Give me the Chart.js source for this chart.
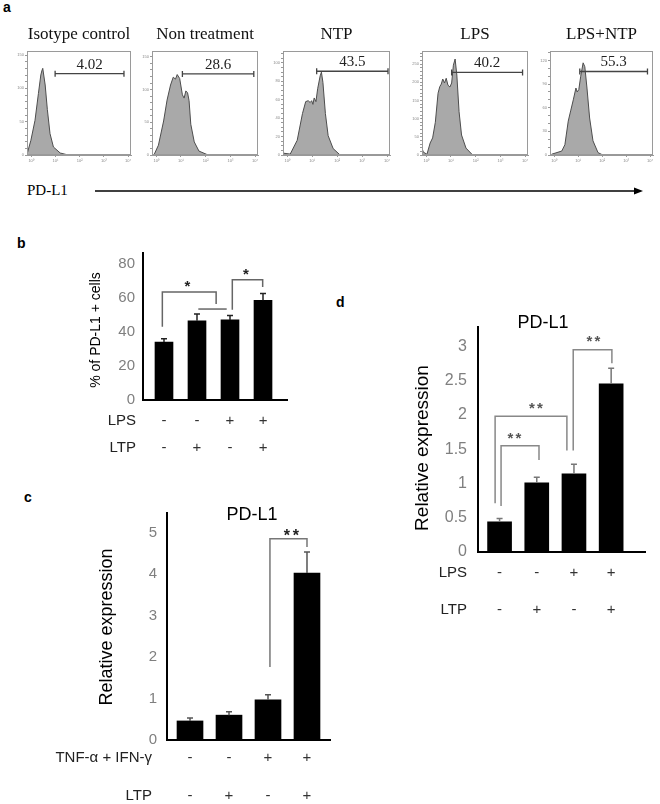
<!DOCTYPE html>
<html>
<head>
<meta charset="utf-8">
<script src="https://cdn.jsdelivr.net/npm/chart.js@4.4.1/dist/chart.umd.min.js"></script>
<style>
  body { margin: 0; background: #fff; }
  #page { position: relative; width: 660px; height: 804px; overflow: hidden; font-family: 'Liberation Sans', Arial, sans-serif; }
  #page canvas { position: absolute; left: 0; top: 0; }
  .tag { position: absolute; font-weight: bold; font-size: 14px; line-height: 14px; }
  #axisName { position: absolute; left: 27px; top: 183px; color: #000; font: 15px/15px 'Liberation Serif', 'Times New Roman', serif; }
  #arrow { position: absolute; left: 0; top: 0; }
</style>
</head>
<body>
<div id="page">
  <div class="tag" style="left:3px;top:0px">a</div>
  <div class="tag" style="left:17px;top:236px">b</div>
  <div class="tag" style="left:24px;top:490px">c</div>
  <div class="tag" style="left:336px;top:295px">d</div>
  <div id="axisName">PD-L1</div>
  <svg id="arrow" width="660" height="200">
    <line x1="95" y1="191" x2="636" y2="191" stroke="#000" stroke-width="1.5"/>
    <polygon points="634,187.5 643,191 634,194.5" fill="#000"/>
  </svg>
  <canvas id="h0" width="660" height="804"></canvas>
  <canvas id="h1" width="660" height="804"></canvas>
  <canvas id="h2" width="660" height="804"></canvas>
  <canvas id="h3" width="660" height="804"></canvas>
  <canvas id="h4" width="660" height="804"></canvas>
  <canvas id="chartB" width="660" height="804"></canvas>
  <canvas id="chartC" width="660" height="804"></canvas>
  <canvas id="chartD" width="660" height="804"></canvas>
</div>
<script>
'use strict';

// ---- panel a: PD-L1 histograms (x = log10 intensity, y = cell count) ----
const histTitles = ['Isotype control', 'Non treatment', 'NTP', 'LPS', 'LPS+NTP'];
const histPercents = ['4.02', '28.6', '43.5', '40.2', '55.3'];

const isoX = [-0.17, -0.01, 0.16, 0.3, 0.4, 0.44, 0.48, 0.58, 0.67, 0.78, 0.92, 1.2, 1.53, 4.1];
const isoY = [1, 22, 52, 92, 120, 126, 130, 105, 68, 32, 12, 3, 0, 0];

const nonX = [-0.08, 0.09, 0.3, 0.44, 0.58, 0.69, 0.78, 0.85, 0.95, 1.06, 1.13, 1.2, 1.27, 1.33, 1.4, 1.54, 1.73, 2.1, 4.1];
const nonY = [1, 15, 52, 84, 107, 119, 116, 123, 117, 92, 87, 98, 95, 83, 47, 20, 6, 0, 0];

const ntpX = [-0.16, 0.12, 0.4, 0.61, 0.74, 0.84, 0.92, 0.98, 1.03, 1.08, 1.15, 1.22, 1.32, 1.37, 1.43, 1.53, 1.64, 1.84, 2.12, 4.1];
const ntpY = [2, 1, 16, 45, 58, 59, 57, 59, 55, 62, 58, 72, 86, 90, 79, 45, 21, 7, 0, 0];

const lpsX = [-0.18, -0.12, 0.03, 0.16, 0.26, 0.37, 0.48, 0.55, 0.61, 0.67, 0.74, 0.81, 0.88, 0.96, 1.03, 1.1, 1.17, 1.24, 1.33, 1.43, 1.61, 1.88, 4.1];
const lpsY = [22, 8, 2, 33, 47, 90, 170, 188, 195, 209, 198, 211, 192, 187, 198, 247, 264, 220, 119, 55, 19, 0, 0];

const lpsNtpX = [-0.1, 0.32, 0.45, 0.59, 0.69, 0.8, 0.91, 0.96, 1.03, 1.11, 1.21, 1.28, 1.37, 1.48, 1.62, 1.83, 2.03, 4.1];
const lpsNtpY = [1, 5, 13, 43, 56, 70, 85, 80, 83, 100, 117, 112, 85, 47, 18, 3, 0, 0];

const histX = [isoX, nonX, ntpX, lpsX, lpsNtpX];
const histY = [isoY, nonY, ntpY, lpsY, lpsNtpY];
const gateLo = [0.99, 1.06, 1.18, 1.03, 1.07];
const gateHi = [3.83, 3.95, 4.04, 3.9, 3.89];
const gateLevel = [122, 124, 91, 227, 106];
const histMax = [156, 159, 113, 286, 132];
const histMajor = [50, 50, 20, 50, 30];
const histMinor = [10, 10, 5, 10, 10];
const decades = [0, 1, 2, 3, 4];
const decadeSup = ['\u2070', '\u00b9', '\u00b2', '\u00b3', '\u2074'];

// ---- panel b ----
const bLPS = ['-', '-', '+', '+'];
const bLTP = ['-', '+', '-', '+'];
const bValues = [34, 46.5, 47, 58.5];
const bErrors = [2, 4, 2.6, 4];
const bTicks = [0, 20, 40, 60, 80];
// [x left, y left end, x right, y top, y right end]
const bBrackets = [[-0.05, 43, 1.58, 63.4, 56.3], [2.07, 53, 2.99, 70.6, 66.3]];
const bLines = [[1.04, 1.9, 53.4]];
const bStars = [[0.71, 69.2, '*'], [2.48, 76, '*']];

// ---- panel c ----
const cTNF = ['-', '-', '+', '+'];
const cLTP = ['-', '+', '-', '+'];
const cValues = [0.46, 0.6, 0.97, 4.03];
const cErrors = [0.07, 0.08, 0.12, 0.51];
const cTicks = [0, 1, 2, 3, 4, 5];
const cBrackets = [[2.05, 1.76, 3.0, 4.86, 4.66]];
const cStars = [[2.6, 5.02, '**']];

// ---- panel d ----
const dLPS = ['-', '-', '+', '+'];
const dLTP = ['-', '+', '-', '+'];
const dValues = [0.44, 1.01, 1.14, 2.45];
const dErrors = [0.05, 0.08, 0.14, 0.23];
const dTicks = [0, 0.5, 1, 1.5, 2, 2.5, 3];
const dBrackets = [[0.04, 0.67, 1.06, 1.55, 1.34], [-0.12, 0.71, 1.81, 1.98, 1.48], [1.98, 1.48, 3.02, 2.95, 2.75]];
const dStars = [[0.4, 1.72, '**'], [0.98, 2.15, '**'], [2.52, 3.13, '**']];

const SANS = "'Liberation Sans', Arial, sans-serif";
const SERIF = "'Liberation Serif', 'Times New Roman', serif";
const W = 660, H = 804;
Chart.defaults.font.family = SANS;

// histogram frames on the page: [left, right], all share top/bottom
const histAreas = [[27, 131], [152, 258], [283, 390], [422, 528], [550, 653]];
const HIST_TOP = 51, HIST_BOTTOM = 155, HYW = 20, HXH = 10;

function histMarks(k) {
  return {
    id: 'histMarks',
    afterDraw(chart) {
      const ctx = chart.ctx;
      const a = chart.chartArea;
      const x = chart.scales.x, y = chart.scales.y;
      ctx.save();
      ctx.strokeStyle = '#9a9a9a';
      ctx.lineWidth = 1;
      ctx.strokeRect(a.left + 0.5, a.top + 0.5, a.right - a.left - 1, a.bottom - a.top - 1);
      // gate
      const x1 = x.getPixelForValue(gateLo[k]);
      const x2 = x.getPixelForValue(gateHi[k]);
      const gy = y.getPixelForValue(gateLevel[k]);
      ctx.strokeStyle = '#444';
      ctx.lineWidth = 1.3;
      ctx.beginPath();
      ctx.moveTo(x1, gy); ctx.lineTo(x2, gy);
      ctx.moveTo(x1, gy - 3); ctx.lineTo(x1, gy + 3);
      ctx.moveTo(x2, gy - 3); ctx.lineTo(x2, gy + 3);
      ctx.stroke();
      ctx.fillStyle = '#222';
      ctx.font = '15px ' + SERIF;
      ctx.textAlign = 'center';
      ctx.textBaseline = 'alphabetic';
      ctx.fillText(histPercents[k], (x1 + x2) / 2, gy - 5);
      ctx.fillStyle = '#111';
      ctx.font = '17px ' + SERIF;
      ctx.fillText(histTitles[k], (a.left + a.right) / 2, 39);
      ctx.restore();
    }
  };
}

function histChart(k) {
  const [l, r] = histAreas[k];
  const pts = histX[k].map((v, i) => ({ x: v, y: histY[k][i] }));
  const minorTicks = [];
  for (let v = 0; v <= histMax[k]; v += histMinor[k]) minorTicks.push({ value: v });
  return new Chart(document.getElementById('h' + k), {
    type: 'line',
    data: {
      datasets: [{
        data: pts,
        fill: 'origin',
        backgroundColor: '#a9a9a9',
        borderColor: '#4d4d4d',
        borderWidth: 1,
        pointRadius: 0,
        tension: 0
      }]
    },
    options: {
      responsive: false,
      animation: false,
      events: [],
      layout: { padding: { left: l - HYW, top: HIST_TOP, right: W - r, bottom: H - HIST_BOTTOM - HXH } },
      plugins: { legend: { display: false }, tooltip: { enabled: false } },
      scales: {
        x: {
          type: 'linear', min: -0.17, max: 4.12,
          afterBuildTicks: s => { s.ticks = decades.map(v => ({ value: v })); },
          afterFit: s => { s.height = HXH; },
          ticks: { callback: v => '10' + decadeSup[v], font: { size: 4 }, color: '#888', padding: 1, autoSkip: false, maxRotation: 0 },
          grid: { drawOnChartArea: false, tickLength: 2, color: '#999' },
          border: { color: '#999' }
        },
        y: {
          min: 0, max: histMax[k],
          afterBuildTicks: s => { s.ticks = minorTicks; },
          afterFit: s => { s.width = HYW; },
          ticks: { callback: v => (v % histMajor[k] === 0 ? String(v) : ''), font: { size: 4 }, color: '#888', padding: 1, autoSkip: false },
          grid: { drawOnChartArea: false, tickLength: 2, color: '#999' },
          border: { color: '#999' }
        }
      }
    },
    plugins: [histMarks(k)]
  });
}

// error bars, brackets, stars, treatment rows and titles for the bar panels
function barMarks(o) {
  return {
    id: 'barMarks',
    afterDraw(chart) {
      const ctx = chart.ctx;
      const x = chart.scales.x, y = chart.scales.y;
      ctx.save();
      ctx.lineWidth = 1.5;
      ctx.strokeStyle = o.errColor;
      o.values.forEach((v, i) => {
        const px = x.getPixelForValue(i);
        const top = y.getPixelForValue(v + o.errors[i]);
        ctx.beginPath();
        ctx.moveTo(px, y.getPixelForValue(v));
        ctx.lineTo(px, top);
        ctx.moveTo(px - 3, top);
        ctx.lineTo(px + 3, top);
        ctx.stroke();
      });
      ctx.strokeStyle = o.lineColor;
      o.brackets.forEach(([x1, y1, x2, yt, y2]) => {
        ctx.beginPath();
        ctx.moveTo(x.getPixelForValue(x1), y.getPixelForValue(y1));
        ctx.lineTo(x.getPixelForValue(x1), y.getPixelForValue(yt));
        ctx.lineTo(x.getPixelForValue(x2), y.getPixelForValue(yt));
        ctx.lineTo(x.getPixelForValue(x2), y.getPixelForValue(y2));
        ctx.stroke();
      });
      (o.lines || []).forEach(([x1, x2, yl]) => {
        ctx.beginPath();
        ctx.moveTo(x.getPixelForValue(x1), y.getPixelForValue(yl));
        ctx.lineTo(x.getPixelForValue(x2), y.getPixelForValue(yl));
        ctx.stroke();
      });
      ctx.fillStyle = o.starColor;
      ctx.font = 'bold ' + o.starSize + 'px ' + SANS;
      ctx.textAlign = 'center';
      ctx.textBaseline = 'alphabetic';
      o.stars.forEach(([sx, sy, txt]) => {
        const cx = x.getPixelForValue(sx);
        const base = y.getPixelForValue(sy) + o.starSize * 0.58;
        for (let j = 0; j < txt.length; j++) {
          ctx.fillText(txt[j], cx + (j - (txt.length - 1) / 2) * o.starGap, base);
        }
      });
      ctx.font = '15px ' + SANS;
      ctx.textBaseline = 'middle';
      o.rows.forEach(row => {
        ctx.fillStyle = '#222';
        ctx.textAlign = 'right';
        ctx.fillText(row.label, o.rowLabelX, row.y);
        ctx.fillStyle = '#333';
        ctx.textAlign = 'center';
        row.signs.forEach((s, i) => ctx.fillText(s, x.getPixelForValue(i), row.y));
      });
      ctx.fillStyle = '#000';
      if (o.title) {
        ctx.font = o.title.size + 'px ' + SANS;
        ctx.fillText(o.title.text, o.title.x, o.title.y);
      }
      ctx.translate(o.yTitle.x, o.yTitle.y);
      ctx.rotate(-Math.PI / 2);
      ctx.font = o.yTitle.size + 'px ' + SANS;
      ctx.fillText(o.yTitle.text, 0, 0);
      ctx.restore();
    }
  };
}

const YW = 40, XH = 1;

function barChart(id, o) {
  const [l, t, r, b] = o.area;
  const pts = o.values.map((v, i) => ({ x: i, y: v }));
  return new Chart(document.getElementById(id), {
    type: 'bar',
    data: { datasets: [{ data: pts, backgroundColor: '#000', barThickness: o.barW }] },
    options: {
      responsive: false,
      animation: false,
      events: [],
      layout: { padding: { left: l - YW, top: t, right: W - r, bottom: H - b - XH } },
      plugins: { legend: { display: false }, tooltip: { enabled: false } },
      scales: {
        x: {
          type: 'linear', min: o.xMin, max: o.xMax, offset: false,
          afterFit: s => { s.height = XH; },
          ticks: { display: false },
          grid: { display: false, drawTicks: false },
          border: { color: '#000', width: 2 }
        },
        y: {
          min: 0, max: o.yMax,
          afterBuildTicks: s => { s.ticks = o.ticks.map(v => ({ value: v })); },
          afterFit: s => { s.width = YW; },
          ticks: { callback: v => String(v), color: '#7f7f7f', font: { size: o.tickSize }, padding: o.tickPad },
          grid: { display: false, drawTicks: false },
          border: { color: '#000', width: 2 }
        }
      }
    },
    plugins: [barMarks(o)]
  });
}

for (let k = 0; k < 5; k++) histChart(k);

barChart('chartB', {
  area: [143, 253, 287, 400], xMin: -0.636, xMax: 3.727, yMax: 86.3,
  values: bValues, errors: bErrors, ticks: bTicks, barW: 18, tickSize: 15, tickPad: 8,
  brackets: bBrackets, lines: bLines, stars: bStars, starSize: 15, starGap: 8,
  errColor: '#222', lineColor: '#666', starColor: '#222',
  rows: [{ label: 'LPS', y: 421, signs: bLPS }, { label: 'LTP', y: 448, signs: bLTP }], rowLabelX: 136,
  yTitle: { text: '% of PD-L1 + cells', x: 96, y: 330, size: 14 }
});

barChart('chartC', {
  area: [167, 513, 330, 740], xMin: -0.59, xMax: 3.59, yMax: 5.48,
  values: cValues, errors: cErrors, ticks: cTicks, barW: 26, tickSize: 15, tickPad: 10,
  brackets: cBrackets, stars: cStars, starSize: 16, starGap: 9,
  errColor: '#555', lineColor: '#777', starColor: '#222',
  rows: [{ label: 'TNF-\u03b1 + IFN-\u03b3', y: 758, signs: cTNF }, { label: 'LTP', y: 796, signs: cLTP }], rowLabelX: 152,
  title: { text: 'PD-L1', x: 252, y: 515, size: 18 },
  yTitle: { text: 'Relative expression', x: 107, y: 627, size: 18 }
});

barChart('chartD', {
  area: [478, 327, 645, 552], xMin: -0.58, xMax: 3.91, yMax: 3.28,
  values: dValues, errors: dErrors, ticks: dTicks, barW: 24, tickSize: 16, tickPad: 11,
  brackets: dBrackets, stars: dStars, starSize: 15, starGap: 8,
  errColor: '#777', lineColor: '#888', starColor: '#555',
  rows: [{ label: 'LPS', y: 573, signs: dLPS }, { label: 'LTP', y: 610, signs: dLTP }], rowLabelX: 467,
  title: { text: 'PD-L1', x: 543, y: 323, size: 18 },
  yTitle: { text: 'Relative expression', x: 423, y: 448, size: 19 }
});
</script>
</body>
</html>
